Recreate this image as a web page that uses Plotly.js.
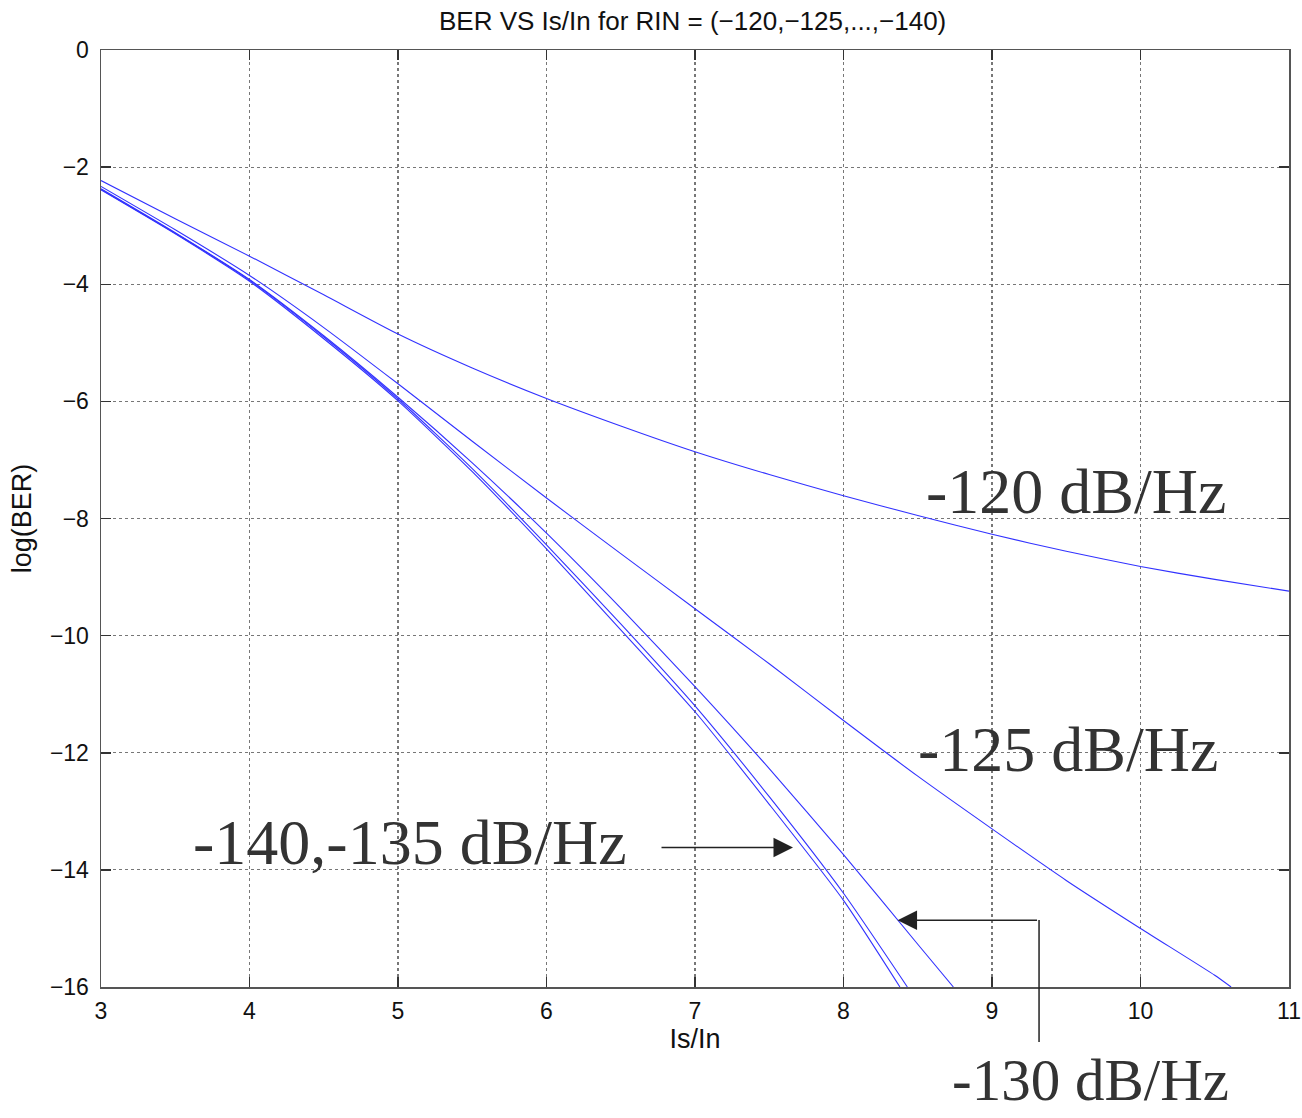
<!DOCTYPE html>
<html>
<head>
<meta charset="utf-8">
<script src="https://cdn.plot.ly/plotly-3.0.1.min.js"></script>
<style>
html,body{margin:0;padding:0;background:#fff;}
#chart{width:1302px;height:1118px;}
</style>
</head>
<body>
<div id="chart"></div>
<script>
// Is/In values and log(BER) for each RIN level
const xs120 = [3,3.5,4,4.5,5,5.5,6,6.5,7,7.5,8,8.5,9,9.5,10,10.5,11];
const ber120 = [-2.23,-2.88,-3.52,-4.18,-4.85,-5.43,-5.95,-6.42,-6.86,-7.25,-7.61,-7.95,-8.27,-8.56,-8.82,-9.04,-9.24];

const xs125 = [3,3.5,4,4.5,5,5.5,6,6.5,7,7.5,8,8.5,9,9.5,10,10.5,10.61];
const ber125 = [-2.33,-3.07,-3.85,-4.74,-5.70,-6.68,-7.65,-8.60,-9.54,-10.48,-11.45,-12.40,-13.30,-14.18,-15.00,-15.80,-16.0];

const xs130 = [3,3.5,4,4.5,5,5.5,6,6.5,7,7.5,8,8.5,8.74];
const ber130 = [-2.37,-3.12,-3.92,-4.88,-5.93,-7.05,-8.25,-9.53,-10.87,-12.27,-13.74,-15.27,-16.0];

const xs135 = [3,3.5,4,4.5,5,5.5,6,6.5,7,7.5,8,8.43];
const ber135 = [-2.38,-3.13,-3.93,-4.90,-5.96,-7.15,-8.45,-9.80,-11.20,-12.75,-14.40,-16.0];

const xs140 = [3,3.5,4,4.5,5,5.5,6,6.5,7,7.5,8,8.38];
const ber140 = [-2.39,-3.14,-3.95,-4.93,-5.99,-7.20,-8.52,-9.90,-11.30,-12.88,-14.52,-16.0];

const seriesNames = ['-120 dB/Hz','-125 dB/Hz','-130 dB/Hz','-135 dB/Hz','-140 dB/Hz'];
const xTicks = [3,4,5,6,7,8,9,10,11];
const yTicks = [0,-2,-4,-6,-8,-10,-12,-14,-16];

const titleText = 'BER VS Is/In for RIN = (\u2212120,\u2212125,...,\u2212140)';
const xTitle = 'Is/In';
const yTitle = 'log(BER)';
const label120 = '-120 dB/Hz';
const label125 = '-125 dB/Hz';
const label130 = '-130 dB/Hz';
const label135140 = '-140,-135 dB/Hz';

const lineStyle = {color:'rgb(50,50,255)', width:1.1, shape:'spline', smoothing:0.6};
const xsAll = [xs120, xs125, xs130, xs135, xs140];
const ysAll = [ber120, ber125, ber130, ber135, ber140];
const traces = xsAll.map((xs, i) => ({
  x: xs, y: ysAll[i], type:'scatter', mode:'lines', name: seriesNames[i],
  line: lineStyle, showlegend:false, hoverinfo:'x+y+name'
}));

const SANS = 'Liberation Sans, Arial, sans-serif';
const axisTitleFont = {family:SANS, size:27, color:'#111'};
const serifFont = {family:'Liberation Serif, Times New Roman, serif', size:64, color:'#333'};

const axisCommon = {
  showline:true, linecolor:'#555', linewidth:1.5, mirror:'allticks',
  ticks:'inside', ticklen:10, tickwidth:1.5, tickcolor:'#333',
  showgrid:true, gridcolor:'#777', griddash:'dot', gridwidth:1.2,
  zeroline:false, tickfont:{family:SANS, size:23, color:'#111'}
};

const layout = {
  width:1302, height:1118,
  margin:{l:101, r:13, t:50, b:131},
  paper_bgcolor:'#fff', plot_bgcolor:'#fff',
  title:{text:titleText, font:{family:SANS, size:26, color:'#111'}, x:0.532, xanchor:'center', y:0.981, yanchor:'middle'},
  xaxis: Object.assign({}, axisCommon, {
    range:[3,11], tickvals:xTicks, ticktext:xTicks.map(String), ticklabelstandoff:3,
    title:{text:xTitle, font:axisTitleFont, standoff:6}
  }),
  yaxis: Object.assign({}, axisCommon, {
    range:[-16,0], tickvals:yTicks, ticktext:yTicks.map(v => v===0 ? '0' : '\u2212'+Math.abs(v)), ticklabelstandoff:6,
    title:{text:yTitle, font:axisTitleFont, standoff:10}
  }),
  annotations:[
    {x:9.566, y:-7.54, xref:'x', yref:'y', text:label120, showarrow:false, font:serifFont, xanchor:'center', yanchor:'middle'},
    {x:9.51, y:-11.95, xref:'x', yref:'y', text:label125, showarrow:false, font:serifFont, xanchor:'center', yanchor:'middle'},
    {x:5.08, y:-13.54, xref:'x', yref:'y', text:label135140, showarrow:false, font:serifFont, xanchor:'center', yanchor:'middle'},
    {x:0.8325, y:-0.099, xref:'paper', yref:'paper', text:label130, showarrow:false, font:Object.assign({}, serifFont, {size:59}), xanchor:'center', yanchor:'middle'},
    // arrow to the -140/-135 pair
    {x:7.66, y:-13.62, xref:'x', yref:'y', text:'', showarrow:true, arrowhead:2, arrowsize:2.6, arrowwidth:1.5, arrowcolor:'#222', ax:-133, ay:0, standoff:0},
    // arrow to the -130 curve
    {x:8.364, y:-14.86, xref:'x', yref:'y', text:'', showarrow:true, arrowhead:2, arrowsize:2.6, arrowwidth:1.5, arrowcolor:'#222', ax:141, ay:0, standoff:0}
  ],
  shapes:[
    {type:'line', xref:'paper', yref:'paper', x0:0.7896, x1:0.7896, y0:0.0715, y1:-0.0587, line:{color:'#222', width:1.5}}
  ]
};

Plotly.newPlot('chart', traces, layout, {displayModeBar:false, staticPlot:true});
</script>
</body>
</html>
